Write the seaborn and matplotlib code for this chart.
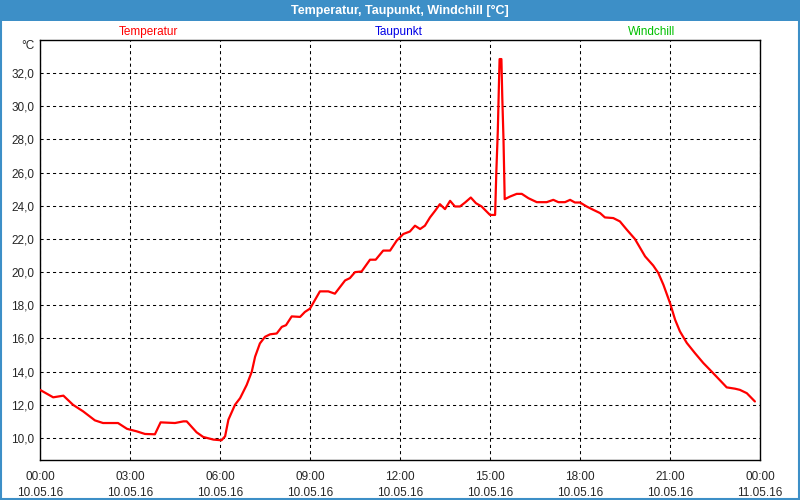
import matplotlib
matplotlib.use("Agg")
import matplotlib.pyplot as plt
import seaborn as sns
from matplotlib.patches import Rectangle
from matplotlib.ticker import FixedLocator, FuncFormatter

# Messwerte (Stunden seit 00:00 am 10.05.16, Temperatur in °C)
hours = [
    0, 0.44, 0.78, 1.1, 1.44, 1.83, 2.1, 2.6, 2.9, 3.22, 3.5, 3.83,
    4.02, 4.5, 4.78, 4.89, 5.22, 5.44, 5.78, 6.05, 6.17, 6.28, 6.5, 6.67,
    6.89, 7.06, 7.17, 7.33, 7.5, 7.67, 7.89, 8.06, 8.2, 8.39, 8.67, 8.83,
    9.0, 9.33, 9.61, 9.83, 10.17, 10.33, 10.5, 10.72, 11.0, 11.19, 11.44,
    11.67, 11.89,
    12.11, 12.33, 12.5, 12.67, 12.83, 13.0, 13.17, 13.33, 13.5, 13.67,
    13.83, 14.0, 14.17, 14.36, 14.53, 14.72, 15.0, 15.17,
    15.21, 15.26, 15.3, 15.32, 15.38, 15.41, 15.45, 15.49,
    15.67, 15.89, 16.06, 16.28, 16.56, 16.89, 17.11, 17.28, 17.5, 17.67,
    17.83, 18.0, 18.22, 18.44, 18.67, 18.83, 19.11, 19.33, 19.56, 19.83,
    20.17, 20.44, 20.61, 20.78, 21.0, 21.17, 21.33, 21.56, 21.83, 22.11,
    22.39, 22.67, 22.89, 23.17, 23.33, 23.56, 23.83,
]
temperatur = [
    12.9, 12.45, 12.55, 12.0, 11.6, 11.06, 10.9, 10.9, 10.55, 10.4, 10.24, 10.22,
    10.94, 10.9, 11.0, 11.0, 10.34, 10.06, 9.9, 9.86, 10.1, 11.1, 12.0, 12.4,
    13.2, 14.0, 14.9, 15.7, 16.1, 16.25, 16.3, 16.7, 16.8, 17.33, 17.3, 17.6,
    17.8, 18.84, 18.84, 18.7, 19.5, 19.64, 20.0, 20.04, 20.75, 20.75, 21.3,
    21.3, 21.9,
    22.3, 22.45, 22.8, 22.6, 22.8, 23.3, 23.7, 24.1, 23.8, 24.3,
    23.96, 23.96, 24.2, 24.5, 24.16, 23.96, 23.45, 23.45,
    26.0, 28.5, 31.5, 32.85, 32.85, 30.5, 28.0, 24.4,
    24.56, 24.72, 24.72, 24.46, 24.22, 24.22, 24.36, 24.22, 24.22, 24.36,
    24.2, 24.2, 23.96, 23.76, 23.56, 23.3, 23.26, 23.06, 22.56, 22.0,
    20.95, 20.4, 19.95, 19.24, 18.14, 17.13, 16.43, 15.73, 15.12, 14.52,
    14.0, 13.47, 13.05, 12.97, 12.9, 12.7, 12.2,
]

tick_hours = [0, 3, 6, 9, 12, 15, 18, 21, 24]
tick_labels = ["00:00\n10.05.16", "03:00\n10.05.16", "06:00\n10.05.16",
               "09:00\n10.05.16", "12:00\n10.05.16", "15:00\n10.05.16",
               "18:00\n10.05.16", "21:00\n10.05.16", "00:00\n11.05.16"]
y_ticks = [10, 12, 14, 16, 18, 20, 22, 24, 26, 28, 30, 32]

serien = ["Temperatur", "Taupunkt", "Windchill"]
serien_farben = ["#ff0000", "#0000e6", "#00c000"]

sns.set_style("white")
plt.rcParams["font.family"] = ["Liberation Sans", "DejaVu Sans"]
plt.rcParams["font.size"] = 8.5

fig = plt.figure(figsize=(8, 5), dpi=100)
fig.patch.set_facecolor("white")

# Titelleiste und Rahmen
blau = "#3d8fc7"
fig.patches.append(Rectangle((0, 0.958), 1, 0.042, transform=fig.transFigure,
                             facecolor=blau, edgecolor="none", zorder=0))
fig.patches.append(Rectangle((0.001, 0.002), 0.998, 0.997, transform=fig.transFigure,
                             facecolor="none", edgecolor=blau, linewidth=1.5, zorder=5))
fig.text(0.5, 0.979, "Temperatur, Taupunkt, Windchill [°C]", color="white",
         fontweight="bold", fontsize=9, ha="center", va="center")

ax = fig.add_axes([0.05, 0.08, 0.9, 0.84])
sns.lineplot(x=hours, y=temperatur, color="#ff0000", linewidth=1.6, ax=ax, zorder=3)

ax.set_xlim(0, 24)
ax.set_ylim(8.67, 34.0)
ax.xaxis.set_major_locator(FixedLocator(tick_hours))
ax.xaxis.set_minor_locator(FixedLocator(list(range(25))))
ax.set_xticklabels(tick_labels, linespacing=1.45)
ax.set_yticks(y_ticks)
ax.yaxis.set_major_formatter(FuncFormatter(lambda v, p: f"{v:.1f}".replace(".", ",")))

ax.tick_params(axis="x", which="both", direction="in", length=3, width=0.8,
               color="black", pad=8)
ax.tick_params(axis="y", length=0, pad=4)
ax.grid(True, which="major", color="black", linestyle=(0, (3, 3)), linewidth=0.75)
for s in ax.spines.values():
    s.set_color("black")
    s.set_linewidth(1)

fig.text(28 / 800, 1 - 46 / 500, "°C", ha="center", va="center")
for name, farbe, xpos in zip(serien, serien_farben, [148, 399, 652]):
    fig.text(xpos / 800, 1 - 32 / 500, name, color=farbe, ha="center", va="center")

fig.savefig("out.png", dpi=100, facecolor="white")
